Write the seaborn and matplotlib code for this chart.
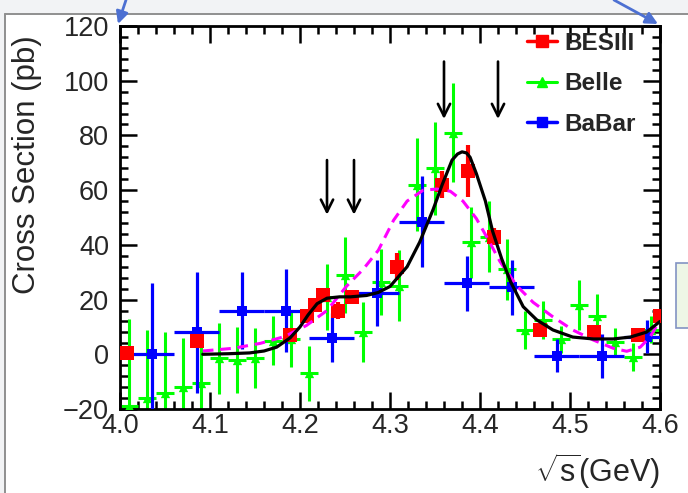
import matplotlib
matplotlib.use("Agg")
import matplotlib.pyplot as plt
import seaborn as sns
from matplotlib.lines import Line2D
from matplotlib.patches import Rectangle, FancyArrowPatch
from matplotlib.ticker import MultipleLocator, FormatStrFormatter

# ---- BESIII measurements ----
bes_x = [4.008, 4.085, 4.189, 4.208, 4.217, 4.226, 4.242, 4.258,
         4.308, 4.358, 4.387, 4.416, 4.467, 4.527, 4.575, 4.600]
bes_y = [0.5, 5, 7, 14, 18, 21.5, 16, 21, 32, 62, 67, 43, 9, 8, 7, 14]
bes_err = [1.5, 2, 2, 2.5, 2, 2, 3, 1.5, 5, 5, 9.5, 3, 2, 2, 2, 2]

# ---- Belle measurements (20 MeV bins) ----
belle_x = [4.01, 4.03, 4.05, 4.07, 4.09, 4.11, 4.13, 4.15, 4.17, 4.19,
           4.21, 4.23, 4.25, 4.27, 4.29, 4.31, 4.33, 4.35, 4.37, 4.39,
           4.41, 4.43, 4.45, 4.47, 4.49, 4.51, 4.53, 4.55, 4.57, 4.59]
belle_y = [-19, -16, -14, -12, -10.5, -1.5, -2, -1.5, 5, 5.5,
           -7, 21, 29, 8, 26.5, 25, 62, 68, 81, 41,
           43, 31, 9, 12.5, 5.5, 18, 14, 4.5, -1, 9]
belle_err = [32, 25, 22, 18, 15, 13, 12, 11, 9, 10,
             10, 12, 14, 11, 12, 13, 17, 17, 18, 13,
             13, 11, 7, 7, 5, 9, 8, 5, 5, 5]
belle_xerr = 0.01

# ---- BaBar measurements (50 MeV bins) ----
babar_x = [4.035, 4.085, 4.135, 4.185, 4.235, 4.285,
           4.335, 4.385, 4.435, 4.485, 4.535, 4.585]
babar_y = [0, 8, 16, 16, 6, 22.5, 48.5, 26, 24.5, -0.5, -0.5, 6.5]
babar_err = [26, 22, 14, 15, 9, 12, 16.5, 10, 10, 6, 8, 6]
babar_xerr = 0.025

# ---- fit with two resonances (solid) ----
fit2_x = [4.092, 4.12, 4.144, 4.16, 4.174, 4.189, 4.200, 4.209, 4.219, 4.230,
          4.244, 4.256, 4.274, 4.287, 4.300, 4.319, 4.333, 4.348, 4.358, 4.369,
          4.375, 4.380, 4.385, 4.389, 4.396, 4.406, 4.414, 4.424, 4.434, 4.448,
          4.463, 4.481, 4.503, 4.526, 4.548, 4.567, 4.585, 4.600]
fit2_y = [0, 0.2, 0.5, 1.2, 2.6, 6, 10, 14.4, 18.5, 20.5,
          21, 21, 21.5, 22.6, 24.8, 32, 41, 53, 62, 71,
          73.2, 74, 73.6, 72, 66, 56, 45, 35, 26.5, 17.4,
          12.6, 8.9, 6.3, 5.6, 5.6, 6.3, 8.1, 12]

# ---- fit with one resonance (dashed) ----
fit1_x = [4.092, 4.126, 4.156, 4.183, 4.207, 4.230, 4.252, 4.270, 4.287, 4.304,
          4.319, 4.337, 4.352, 4.367, 4.381, 4.396, 4.409, 4.422, 4.441, 4.459,
          4.481, 4.503, 4.526, 4.548, 4.563, 4.578, 4.589, 4.598]
fit1_y = [1.2, 2.2, 4, 6.5, 10.5, 16, 25, 31, 38, 49,
          56, 60, 60.4, 59.6, 56, 49.6, 42, 34, 25, 19,
          13.7, 8.9, 5.2, 2.2, 1.1, 2.6, 6.3, 11.5]

# ---- resonance position markers ----
arrow_x = [4.23, 4.26, 4.36, 4.42]
arrow_from = [71, 71, 107, 107]
arrow_to = [51, 51, 86, 86]

legend_labels = ["BESIII", "Belle", "BaBar"]

sns.set_style("ticks")
plt.rcParams["font.family"] = ["Liberation Sans", "DejaVu Sans"]
plt.rcParams["mathtext.fontset"] = "custom"
plt.rcParams["mathtext.rm"] = "Liberation Sans"
plt.rcParams["mathtext.sf"] = "Liberation Sans"

W, H = 688, 493
fig = plt.figure(figsize=(W / 100, H / 100), dpi=100)
fig.patch.set_facecolor("white")

# page frame around the plot
fig.add_artist(Rectangle((0, 1 - 13 / H), 1, 13 / H, transform=fig.transFigure,
                         facecolor="#f2f3f5", edgecolor="none", zorder=0))
fig.add_artist(Rectangle((0, 0), 4.5 / W, 1, transform=fig.transFigure,
                         facecolor="#f2f3f5", edgecolor="none", zorder=0))
fig.add_artist(Line2D([4.5 / W, 1], [1 - 13.5 / H, 1 - 13.5 / H], transform=fig.transFigure,
                      color="#8f8f8f", lw=1.4))
fig.add_artist(Line2D([4.5 / W, 4.5 / W], [0, 1 - 13.5 / H], transform=fig.transFigure,
                      color="#8f8f8f", lw=1.4))
fig.add_artist(Rectangle((676 / W, 1 - 328 / H), 20 / W, 65 / H, transform=fig.transFigure,
                         facecolor="#eef6e6", edgecolor="#8393c3", lw=1.2))

ax = fig.add_axes([120 / W, 1 - 409 / H, 540 / W, 383 / H])

ax.errorbar(belle_x, belle_y, yerr=belle_err, xerr=belle_xerr, fmt="none",
            ecolor="#00ff00", elinewidth=2.2, capsize=0, zorder=2)
sns.scatterplot(x=belle_x, y=belle_y, marker="^", s=45, color="#00ff00",
                linewidth=0, ax=ax, zorder=3)

ax.errorbar(babar_x, babar_y, yerr=babar_err, xerr=babar_xerr, fmt="none",
            ecolor="#0000ff", elinewidth=2.3, capsize=0, zorder=4)
sns.scatterplot(x=babar_x, y=babar_y, marker="s", s=50, color="#0000ff",
                linewidth=0, ax=ax, zorder=5)

ax.errorbar(bes_x, bes_y, yerr=bes_err, fmt="none",
            ecolor="#ff0000", elinewidth=3, capsize=0, zorder=6)
sns.scatterplot(x=bes_x, y=bes_y, marker="s", s=100, color="#ff0000",
                linewidth=0, ax=ax, zorder=7)

sns.lineplot(x=fit1_x, y=fit1_y, ax=ax, color="#ff00ff", lw=2.2, sort=False,
             dashes=False, linestyle=(0, (3.5, 2.2)), zorder=8)
sns.lineplot(x=fit2_x, y=fit2_y, ax=ax, color="black", lw=2.3, sort=False, zorder=9)

for xa, y0, y1 in zip(arrow_x, arrow_from, arrow_to):
    ax.annotate("", xy=(xa, y1), xytext=(xa, y0),
                arrowprops=dict(arrowstyle="->", lw=1.9, color="black",
                                mutation_scale=22, shrinkA=0, shrinkB=0),
                zorder=10)

ax.set_xlim(4.0, 4.6)
ax.set_ylim(-20, 120)
ax.xaxis.set_major_locator(MultipleLocator(0.1))
ax.xaxis.set_minor_locator(MultipleLocator(0.02))
ax.yaxis.set_major_locator(MultipleLocator(20))
ax.yaxis.set_minor_locator(MultipleLocator(4))
ax.xaxis.set_major_formatter(FormatStrFormatter("%.1f"))
ax.tick_params(which="both", direction="in", top=True, right=True,
               width=1.8, color="black")
ax.tick_params(which="major", length=12, labelsize=19.5)
ax.tick_params(which="minor", length=6)
ax.tick_params(axis="y", which="major", pad=8)
ax.tick_params(axis="x", which="major", pad=3)
for sp in ax.spines.values():
    sp.set_linewidth(2)
    sp.set_color("black")

ax.set_ylabel("Cross Section (pb)", fontsize=22.5, loc="top")
ax.yaxis.set_label_coords(-0.145, 0.975)
ax.set_xlabel(r"$\sqrt{\mathsf{s}}$(GeV)", fontsize=22, loc="right")
ax.xaxis.set_label_coords(1.0, -0.11)

handles = [
    Line2D([0], [0], color="#ff0000", lw=2.5, marker="s", markersize=9),
    Line2D([0], [0], color="#00ff00", lw=2.2, marker="^", markersize=7),
    Line2D([0], [0], color="#0000ff", lw=2.5, marker="s", markersize=7),
]
leg = ax.legend(handles, legend_labels, loc="upper left", bbox_to_anchor=(0.753, 0.985),
                frameon=False, prop={"weight": "bold", "size": 17.5},
                handlelength=1.25, handletextpad=0.3, labelspacing=0.72,
                borderpad=0, borderaxespad=0)

# callout arrows pointing at the frame corners
for (xa, ya), (xb, yb) in [((126, 0), (118, 24)), ((614, 0), (658, 24))]:
    fig.add_artist(FancyArrowPatch(posA=(xa / W, 1 - ya / H), posB=(xb / W, 1 - yb / H),
                                   transform=fig.transFigure, arrowstyle="-|>",
                                   mutation_scale=18, lw=2, color="#4d70d2",
                                   shrinkA=0, shrinkB=0, zorder=20))

fig.savefig("out.png", dpi=100)
